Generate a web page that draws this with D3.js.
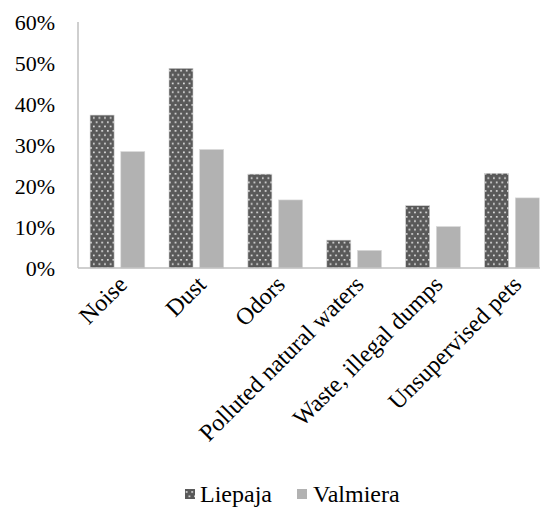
<!DOCTYPE html>
<html><head><meta charset="utf-8">
<script src="https://cdn.jsdelivr.net/npm/d3@7"></script>
<style>body{margin:0;background:#fff}svg{display:block}svg text{font-family:"Times New Roman","Liberation Serif","DejaVu Serif",serif !important;fill:#000}</style>
</head><body>
<script>
const categories = ["Noise","Dust","Odors","Polluted natural waters","Waste, illegal dumps","Unsupervised pets"];
const seriesNames = ["Liepaja","Valmiera"];
const liepaja = [0.373,0.487,0.229,0.068,0.152,0.231];
const valmiera = [0.284,0.289,0.166,0.043,0.101,0.171];
const yTicks = [0,0.1,0.2,0.3,0.4,0.5,0.6];

const W=540,H=508;
const svg=d3.select("body").append("svg").attr("width",W).attr("height",H);
const defs=svg.append("defs");
const pat=defs.append("pattern").attr("id","dots").attr("patternUnits","userSpaceOnUse")
  .attr("width",5.6).attr("height",8.6);
pat.append("rect").attr("width",5.6).attr("height",8.6).attr("fill","#595959");
pat.append("rect").attr("x",1).attr("y",1).attr("width",1.6).attr("height",1.6).attr("fill","#fff").attr("opacity",0.9);
pat.append("rect").attr("x",3.8).attr("y",5.3).attr("width",1.6).attr("height",1.6).attr("fill","#fff").attr("opacity",0.9);

const x0=d3.scaleBand().domain(categories).range([78,551.4]).paddingInner(0).paddingOuter(0);
const x1=d3.scaleBand().domain(seriesNames).range([12.1,66.8]).paddingInner(0.218).paddingOuter(0);
const y=d3.scaleLinear().domain([0,0.6]).range([268,22]);
const fills={"Liepaja":"url(#dots)","Valmiera":"#b2b2b2"};
const data=categories.map((c,i)=>({c,vals:[{s:"Liepaja",v:liepaja[i]},{s:"Valmiera",v:valmiera[i]}]}));

const yAxis=d3.axisLeft(y).tickValues(yTicks).tickFormat(d3.format(".0%")).tickSize(0).tickPadding(23);
const ga=svg.append("g").attr("transform","translate(78,0)").call(yAxis).attr("font-family",null).attr("font-size",null);
ga.select(".domain").remove();
ga.selectAll("text").style("font-size","22px");

const g=svg.append("g");
g.selectAll("g").data(data).join("g").attr("transform",d=>`translate(${x0(d.c)},0)`)
 .selectAll("rect").data(d=>d.vals).join("rect")
 .attr("x",d=>x1(d.s)).attr("width",x1.bandwidth())
 .attr("y",d=>y(d.v)).attr("height",d=>y(0)-y(d.v))
 .attr("fill",d=>fills[d.s]).attr("stroke",d=>d.s==="Liepaja"?"#d0d0d0":"#d9d9d9").attr("stroke-width",0.6);

svg.append("line").attr("x1",78).attr("x2",78).attr("y1",22).attr("y2",268).attr("stroke","#bfbfbf").attr("stroke-width",1.5);
const xAxis=d3.axisBottom(x0).tickSize(0).tickPadding(0);
const gx=svg.append("g").attr("transform","translate(0,268)").call(xAxis).attr("font-family",null).attr("font-size",null);
gx.select(".domain").attr("stroke","#bfbfbf").attr("stroke-width",1.5).attr("d","M78,0H540");
gx.selectAll("text").style("font-size","24px")
  .attr("text-anchor","end").attr("y",0).attr("dy","0")
  .attr("transform","translate(11,18) rotate(-45)");

const leg=svg.append("g");
const lx=[185,297];
const lt=[200,313];
seriesNames.forEach((s,i)=>{
  leg.append("rect").attr("x",lx[i]).attr("y",489).attr("width",10).attr("height",10).attr("fill",fills[s]);
  leg.append("text").attr("x",lt[i]).attr("y",502).style("font-size","24px").text(s);
});
</script>
</body></html>
